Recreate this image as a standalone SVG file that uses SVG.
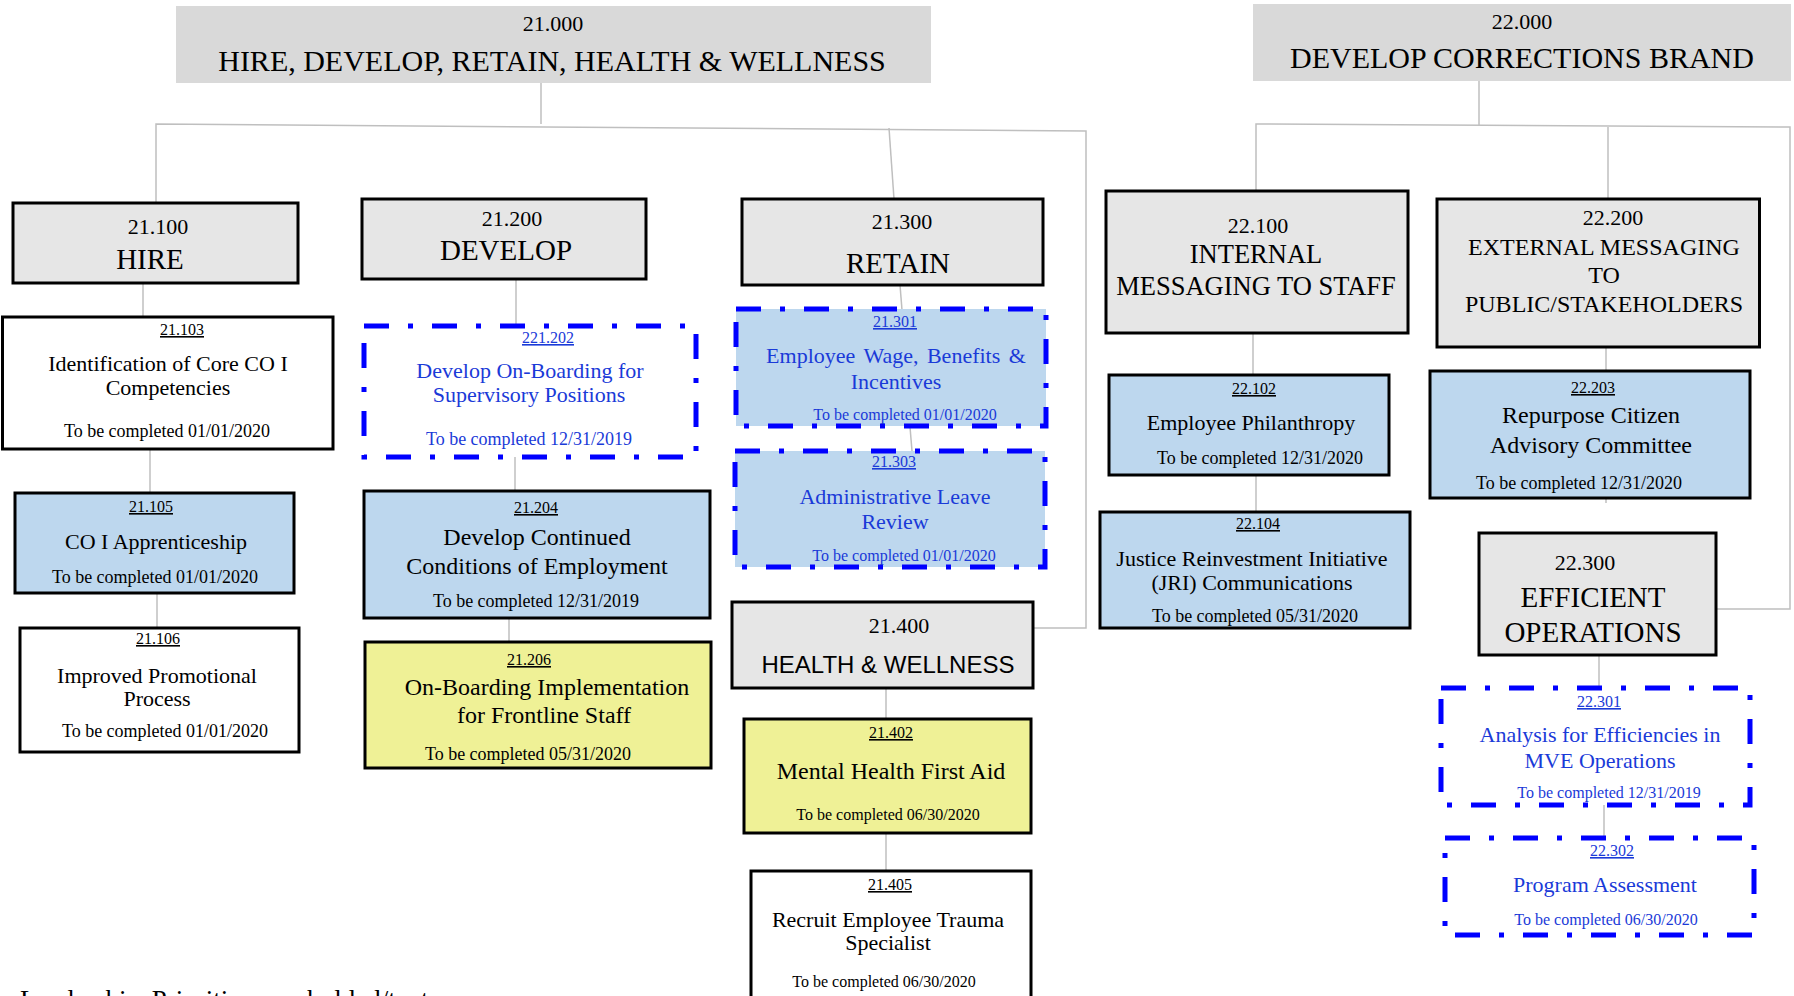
<svg xmlns="http://www.w3.org/2000/svg" width="1794" height="996" viewBox="0 0 1794 996">
<style>
.ln{stroke:#bfbfbf;stroke-width:1.5;fill:none}
.hdr{fill:#d9d9d9}
.g{fill:#e6e6e6;stroke:#000;stroke-width:3}
.w{fill:#fff;stroke:#000;stroke-width:3}
.b{fill:#bdd7ee;stroke:#000;stroke-width:3}
.y{fill:#eff196;stroke:#000;stroke-width:3}
.dw{fill:#fff;stroke:#0000ff;stroke-width:5;stroke-dasharray:25 19 5 19}
.db{fill:#bdd7ee;stroke:#0000ff;stroke-width:5;stroke-dasharray:25 19 5 19}
text{font-family:"Liberation Serif","Times New Roman",serif;fill:#000;text-anchor:middle}
.n{font-size:16px;text-decoration:underline}
.s16{font-size:16px}
.s18{font-size:18px}
.s22{font-size:22px}
.s24{font-size:24px}
.s26{font-size:26.5px}
.s29{font-size:29px}
.s30{font-size:30px}
.bl{fill:#1a3ad8}
.sans{font-family:"Liberation Sans",Arial,sans-serif;font-size:24px}
</style>
<g id="connectors">
<path class="ln" d="M541,83 V124"/>
<path class="ln" d="M156,203 V124 L1086,131 V628 H1033"/>
<path class="ln" d="M889,128 L894,199"/>
<path class="ln" d="M143,283 V317"/>
<path class="ln" d="M150,449 V493"/>
<path class="ln" d="M157,593 V628"/>
<path class="ln" d="M516,279 V326"/>
<path class="ln" d="M515,457 V491"/>
<path class="ln" d="M509,618 V642"/>
<path class="ln" d="M900,285 L902,310"/>
<path class="ln" d="M910,427 L912,451"/>
<path class="ln" d="M886,688 V719"/>
<path class="ln" d="M886,833 V871"/>
<path class="ln" d="M1479,81 V125"/>
<path class="ln" d="M1256,191 V124 L1790,127 V609 H1716"/>
<path class="ln" d="M1608,127 V199"/>
<path class="ln" d="M1253,333 V375"/>
<path class="ln" d="M1256,475 V512"/>
<path class="ln" d="M1606,347 V371"/>
<path class="ln" d="M1606,498 V503"/>
<path class="ln" d="M1599,655 V688"/>
<path class="ln" d="M1604,805 V838"/>
</g>
<g id="n21000">
<rect class="hdr" x="176" y="6" width="755" height="77"/>
<text class="s22" x="553" y="31">21.000</text>
<text class="s30" x="552" y="71">HIRE, DEVELOP, RETAIN, HEALTH &amp; WELLNESS</text>
</g>
<g id="n22000">
<rect class="hdr" x="1253" y="4" width="538" height="77"/>
<text class="s22" x="1522" y="29">22.000</text>
<text class="s30" x="1522" y="68">DEVELOP CORRECTIONS BRAND</text>
</g>
<g id="n21100">
<rect class="g" x="13" y="203" width="285" height="80"/>
<text class="s22" x="158" y="234">21.100</text>
<text class="s29" x="150" y="269">HIRE</text>
</g>
<g id="n21200">
<rect class="g" x="362" y="199" width="284" height="80"/>
<text class="s22" x="512" y="226">21.200</text>
<text class="s29" x="506" y="260">DEVELOP</text>
</g>
<g id="n21300">
<rect class="g" x="742" y="199" width="301" height="86"/>
<text class="s22" x="902" y="229">21.300</text>
<text class="s29" x="898" y="273">RETAIN</text>
</g>
<g id="n21400">
<rect class="g" x="732" y="602" width="301" height="86"/>
<text class="s22" x="899" y="633">21.400</text>
<text class="sans" x="888" y="673">HEALTH &amp; WELLNESS</text>
</g>
<g id="n21103">
<rect class="w" x="2.5" y="317" width="330.5" height="132"/>
<text class="n" x="182" y="335">21.103</text>
<text class="s22" x="168" y="371">Identification of Core CO I</text>
<text class="s22" x="168" y="395">Competencies</text>
<text class="s18" x="167" y="437">To be completed 01/01/2020</text>
</g>
<g id="n21105">
<rect class="b" x="15" y="493" width="279" height="100"/>
<text class="n" x="151" y="512">21.105</text>
<text class="s22" x="156" y="549">CO I Apprenticeship</text>
<text class="s18" x="155" y="583">To be completed 01/01/2020</text>
</g>
<g id="n21106">
<rect class="w" x="20" y="628" width="279" height="124"/>
<text class="n" x="158" y="644">21.106</text>
<text class="s22" x="157" y="683">Improved Promotional</text>
<text class="s22" x="157" y="706">Process</text>
<text class="s18" x="165" y="737">To be completed 01/01/2020</text>
</g>
<g id="n21202">
<rect class="dw" x="364" y="326" width="332" height="131"/>
<text class="n bl" x="548" y="343">221.202</text>
<text class="s22 bl" x="530" y="378">Develop On-Boarding for</text>
<text class="s22 bl" x="529" y="402">Supervisory Positions</text>
<text class="s18 bl" x="529" y="445">To be completed 12/31/2019</text>
</g>
<g id="n21204">
<rect class="b" x="364" y="491" width="346" height="127"/>
<text class="n" x="536" y="513">21.204</text>
<text class="s24" x="537" y="545">Develop Continued</text>
<text class="s24" x="537" y="574">Conditions of Employment</text>
<text class="s18" x="536" y="607">To be completed 12/31/2019</text>
</g>
<g id="n21206">
<rect class="y" x="365" y="642" width="346" height="126"/>
<text class="n" x="529" y="665">21.206</text>
<text class="s24" x="547" y="695">On-Boarding Implementation</text>
<text class="s24" x="544" y="723">for Frontline Staff</text>
<text class="s18" x="528" y="760">To be completed 05/31/2020</text>
</g>
<g id="n21301">
<rect class="db" x="736" y="309" width="310" height="117"/>
<text class="n bl" x="895" y="327">21.301</text>
<text class="s22 bl" x="896" y="363" word-spacing="3">Employee Wage, Benefits &amp;</text>
<text class="s22 bl" x="896" y="389">Incentives</text>
<text class="s16 bl" x="905" y="420">To be completed 01/01/2020</text>
</g>
<g id="n21303">
<rect class="db" x="735" y="451" width="310" height="116"/>
<text class="n bl" x="894" y="467">21.303</text>
<text class="s22 bl" x="895" y="504">Administrative Leave</text>
<text class="s22 bl" x="895" y="529">Review</text>
<text class="s16 bl" x="904" y="561">To be completed 01/01/2020</text>
</g>
<g id="n21402">
<rect class="y" x="744" y="719" width="287" height="114"/>
<text class="n" x="891" y="738">21.402</text>
<text class="s24" x="891" y="779">Mental Health First Aid</text>
<text class="s16" x="888" y="820">To be completed 06/30/2020</text>
</g>
<g id="n21405">
<rect class="w" x="751" y="871" width="280" height="140"/>
<text class="n" x="890" y="890">21.405</text>
<text class="s22" x="888" y="927">Recruit Employee Trauma</text>
<text class="s22" x="888" y="950">Specialist</text>
<text class="s16" x="884" y="987">To be completed 06/30/2020</text>
</g>
<g id="n22100">
<rect class="g" x="1106" y="191" width="302" height="142"/>
<text class="s22" x="1258" y="233">22.100</text>
<text class="s26" x="1256" y="263">INTERNAL</text>
<text class="s26" x="1256" y="295">MESSAGING TO STAFF</text>
</g>
<g id="n22200">
<rect class="g" x="1437" y="199" width="322.5" height="148"/>
<text class="s22" x="1613" y="225">22.200</text>
<text class="s24" x="1604" y="255">EXTERNAL MESSAGING</text>
<text class="s24" x="1604" y="283">TO</text>
<text class="s24" x="1604" y="312">PUBLIC/STAKEHOLDERS</text>
</g>
<g id="n22102">
<rect class="b" x="1109" y="375" width="280" height="100"/>
<text class="n" x="1254" y="394">22.102</text>
<text class="s22" x="1251" y="430">Employee Philanthropy</text>
<text class="s18" x="1260" y="464">To be completed 12/31/2020</text>
</g>
<g id="n22104">
<rect class="b" x="1100" y="512" width="310" height="116"/>
<text class="n" x="1258" y="529">22.104</text>
<text class="s22" x="1252" y="566">Justice Reinvestment Initiative</text>
<text class="s22" x="1252" y="590">(JRI) Communications</text>
<text class="s18" x="1255" y="622">To be completed 05/31/2020</text>
</g>
<g id="n22203">
<rect class="b" x="1430" y="371" width="320" height="127"/>
<text class="n" x="1593" y="393">22.203</text>
<text class="s24" x="1591" y="423">Repurpose Citizen</text>
<text class="s24" x="1591" y="453">Advisory Committee</text>
<text class="s18" x="1579" y="489">To be completed 12/31/2020</text>
</g>
<g id="n22300">
<rect class="g" x="1479" y="533" width="237" height="122"/>
<text class="s22" x="1585" y="570">22.300</text>
<text class="s29" x="1593" y="607">EFFICIENT</text>
<text class="s29" x="1593" y="642">OPERATIONS</text>
</g>
<g id="n22301">
<rect class="dw" x="1441" y="688" width="309" height="117"/>
<text class="n bl" x="1599" y="707">22.301</text>
<text class="s22 bl" x="1600" y="742">Analysis for Efficiencies in</text>
<text class="s22 bl" x="1600" y="768">MVE Operations</text>
<text class="s16 bl" x="1609" y="798">To be completed 12/31/2019</text>
</g>
<g id="n22302">
<rect class="dw" x="1445" y="838" width="309" height="97"/>
<text class="n bl" x="1612" y="856">22.302</text>
<text class="s22 bl" x="1605" y="892">Program Assessment</text>
<text class="s16 bl" x="1606" y="925">To be completed 06/30/2020</text>
</g>
<g id="footer">
<text x="20" y="1009" style="text-anchor:start;font-size:27px;word-spacing:5px">Leadership Priorities are bolded/text</text>
</g>
</svg>
